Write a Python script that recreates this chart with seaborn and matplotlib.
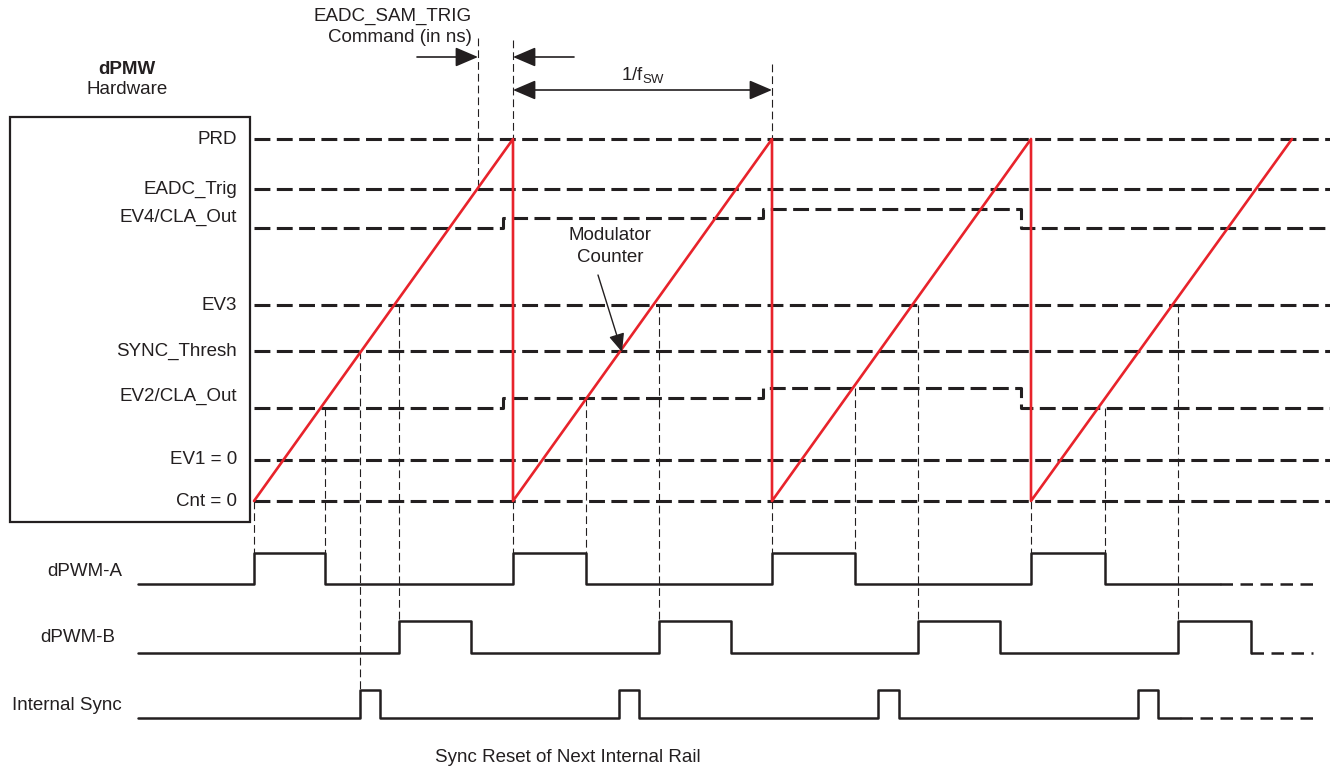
import numpy as np
import pandas as pd
import matplotlib.pyplot as plt
import seaborn as sns
from matplotlib.patches import Rectangle

# ---- data (diagram units = picture pixels, y grows downward) ----
level_names = ["PRD", "EADC_Trig", "EV4/CLA_Out", "EV3", "SYNC_Thresh",
               "EV2/CLA_Out", "EV1 = 0", "Cnt = 0"]
level_y = [139, 189, 228, 305, 351, 408, 460, 501]
label_y = [139, 189, 217, 305, 351, 396, 460, 502]

ramp_start = [254, 513, 772, 1031]
ramp_end = [513, 772, 1031, 1292]
line_end = 1330

# compare levels that move each period
cla_steps_x = [254, 503, 763, 1021]
ev4_steps_y = [228, 218, 209, 228]
ev2_steps_y = [408, 398, 388, 408]

# output waveforms: edge times (rise, fall, rise, fall ...)
wave_names = ["dPWM-A", "dPWM-B", "Internal Sync"]
wave_low = [584, 653, 718]
wave_high = [553, 621, 690]
wave_edges = [
    [254, 325, 513, 586, 772, 855, 1031, 1105],
    [399, 471, 659, 731, 918, 1000, 1178, 1251],
    [360, 380, 619, 639, 878, 899, 1138, 1158],
]
wave_solid_end = [1220, 1251, 1180]
wave_dash_end = [1313, 1313, 1315]
wave_label_y = [571, 638, 705]
wave_label_x = [122, 115, 122]
wave_start = 138

eadc_cmd_x = 478

INK = "#231f20"
RED = "#e8232b"

sns.set_theme(style="white")
plt.rcParams["font.family"] = ["Liberation Sans", "DejaVu Sans"]
plt.rcParams["mathtext.fontset"] = "custom"
plt.rcParams["mathtext.rm"] = "Liberation Sans"
plt.rcParams["mathtext.it"] = "Liberation Sans"
FS = 13.5

fig = plt.figure(figsize=(13.3, 7.69), dpi=100)
ax = fig.add_axes([0, 0, 1, 1])

# ---- hardware box and level labels ----
ax.add_patch(Rectangle((10, 117), 240, 405, fill=False, ec=INK, lw=1.6))
for name, y in zip(level_names, label_y):
    ax.text(237, y, name, ha="right", va="center", fontsize=FS, color=INK)
ax.text(127, 70, "dPMW", ha="center", va="center", fontsize=FS,
        fontweight="bold", color=INK)
ax.text(127, 90, "Hardware", ha="center", va="center", fontsize=FS, color=INK)

# ---- thick dashed compare levels ----
thick = dict(color=INK, lw=2.2, dashes=(5.2, 2.1))
for name, y in zip(level_names, level_y):
    if "CLA" in name:
        continue
    ax.plot([ramp_start[0], line_end], [y, y], **thick)


def step_xy(xs, ys, x_last):
    px, py = [], []
    for i, (x, y) in enumerate(zip(xs, ys)):
        px.append(x)
        py.append(y)
        nx = xs[i + 1] if i + 1 < len(xs) else x_last
        px.append(nx)
        py.append(y)
    return px, py


for ys in (ev4_steps_y, ev2_steps_y):
    px, py = step_xy(cla_steps_x, ys, line_end)
    ax.plot(px, py, **thick)

# ---- thin dashed guide lines (from level crossing down to the edge) ----
thin = dict(color=INK, lw=0.8, dashes=(7, 3.6))


def cla_level(steps_y, x):
    idx = np.searchsorted(cla_steps_x, x, side="right") - 1
    return steps_y[idx]


cnt0 = level_y[level_names.index("Cnt = 0")]
ev3 = level_y[level_names.index("EV3")]
sync_th = level_y[level_names.index("SYNC_Thresh")]
prd = level_y[level_names.index("PRD")]
eadc = level_y[level_names.index("EADC_Trig")]

a_edges = wave_edges[0]
for x in a_edges[0::2]:
    ax.plot([x, x], [cnt0, wave_high[0]], **thin)
for x in a_edges[1::2]:
    ax.plot([x, x], [cla_level(ev2_steps_y, x), wave_high[0]], **thin)
for x in wave_edges[1][0::2]:
    ax.plot([x, x], [ev3, wave_high[1]], **thin)
x_sync = wave_edges[2][0]
ax.plot([x_sync, x_sync], [sync_th, wave_high[2]], **thin)

ax.plot([eadc_cmd_x, eadc_cmd_x], [38, eadc], **thin)
ax.plot([ramp_start[1], ramp_start[1]], [40, prd], **thin)
ax.plot([ramp_start[2], ramp_start[2]], [64, prd], **thin)

# ---- modulator counter (sawtooth) ----
saw_x, saw_y = [], []
for s, e in zip(ramp_start, ramp_end):
    saw_x += [s, e]
    saw_y += [cnt0, prd]
saw = pd.DataFrame({"t": saw_x, "cnt": saw_y})
sns.lineplot(data=saw, x="t", y="cnt", sort=False, estimator=None,
             color=RED, lw=1.9, ax=ax)

# ---- output waveforms ----
for k in range(len(wave_names)):
    edges = wave_edges[k]
    xs = [wave_start]
    ys = [wave_low[k]]
    for j, e in enumerate(edges):
        cur = wave_low[k] if j % 2 == 0 else wave_high[k]
        nxt = wave_high[k] if j % 2 == 0 else wave_low[k]
        xs += [e, e]
        ys += [cur, nxt]
    xs.append(wave_solid_end[k])
    ys.append(wave_low[k])
    wdf = pd.DataFrame({"t": xs, "v": ys})
    sns.lineplot(data=wdf, x="t", y="v", sort=False, estimator=None,
                 color=INK, lw=1.8, ax=ax)
    ax.plot([wave_solid_end[k], wave_dash_end[k]], [wave_low[k]] * 2,
            color=INK, lw=1.8, dashes=(5, 3))
    ax.text(wave_label_x[k], wave_label_y[k], wave_names[k], ha="right",
            va="center", fontsize=FS, color=INK)

# ---- annotations ----
ax.text(393, 16, "EADC_SAM_TRIG", ha="center", va="center", fontsize=FS, color=INK)
ax.text(400, 37, "Command (in ns)", ha="center", va="center", fontsize=FS, color=INK)
arrow = dict(arrowstyle="-|>,head_length=0.7,head_width=0.3", color=INK,
             lw=1.2, shrinkA=0, shrinkB=0, mutation_scale=20)
ax.annotate("", xy=(eadc_cmd_x, 57), xytext=(417, 57), arrowprops=arrow)
ax.annotate("", xy=(ramp_start[1], 57), xytext=(574, 57), arrowprops=arrow)
ax.annotate("", xy=(ramp_start[2], 90), xytext=(ramp_start[1], 90),
            arrowprops=dict(arrow, arrowstyle="<|-|>,head_length=0.7,head_width=0.3"))
ax.text(643, 75, r"1/f$_{\mathrm{SW}}$", ha="center", va="center",
        fontsize=FS, color=INK)

ax.text(610, 235, "Modulator", ha="center", va="center", fontsize=FS, color=INK)
ax.text(610, 257, "Counter", ha="center", va="center", fontsize=FS, color=INK)
ax.annotate("", xy=(622, 352), xytext=(598, 275),
            arrowprops=dict(arrow, lw=1.0, mutation_scale=16))

ax.text(568, 758, "Sync Reset of Next Internal Rail", ha="center",
        va="center", fontsize=FS, color=INK)

ax.set_xlim(0, 1330)
ax.set_ylim(769, 0)
ax.axis("off")
if ax.get_legend():
    ax.get_legend().remove()

fig.savefig("out.png", dpi=100)
